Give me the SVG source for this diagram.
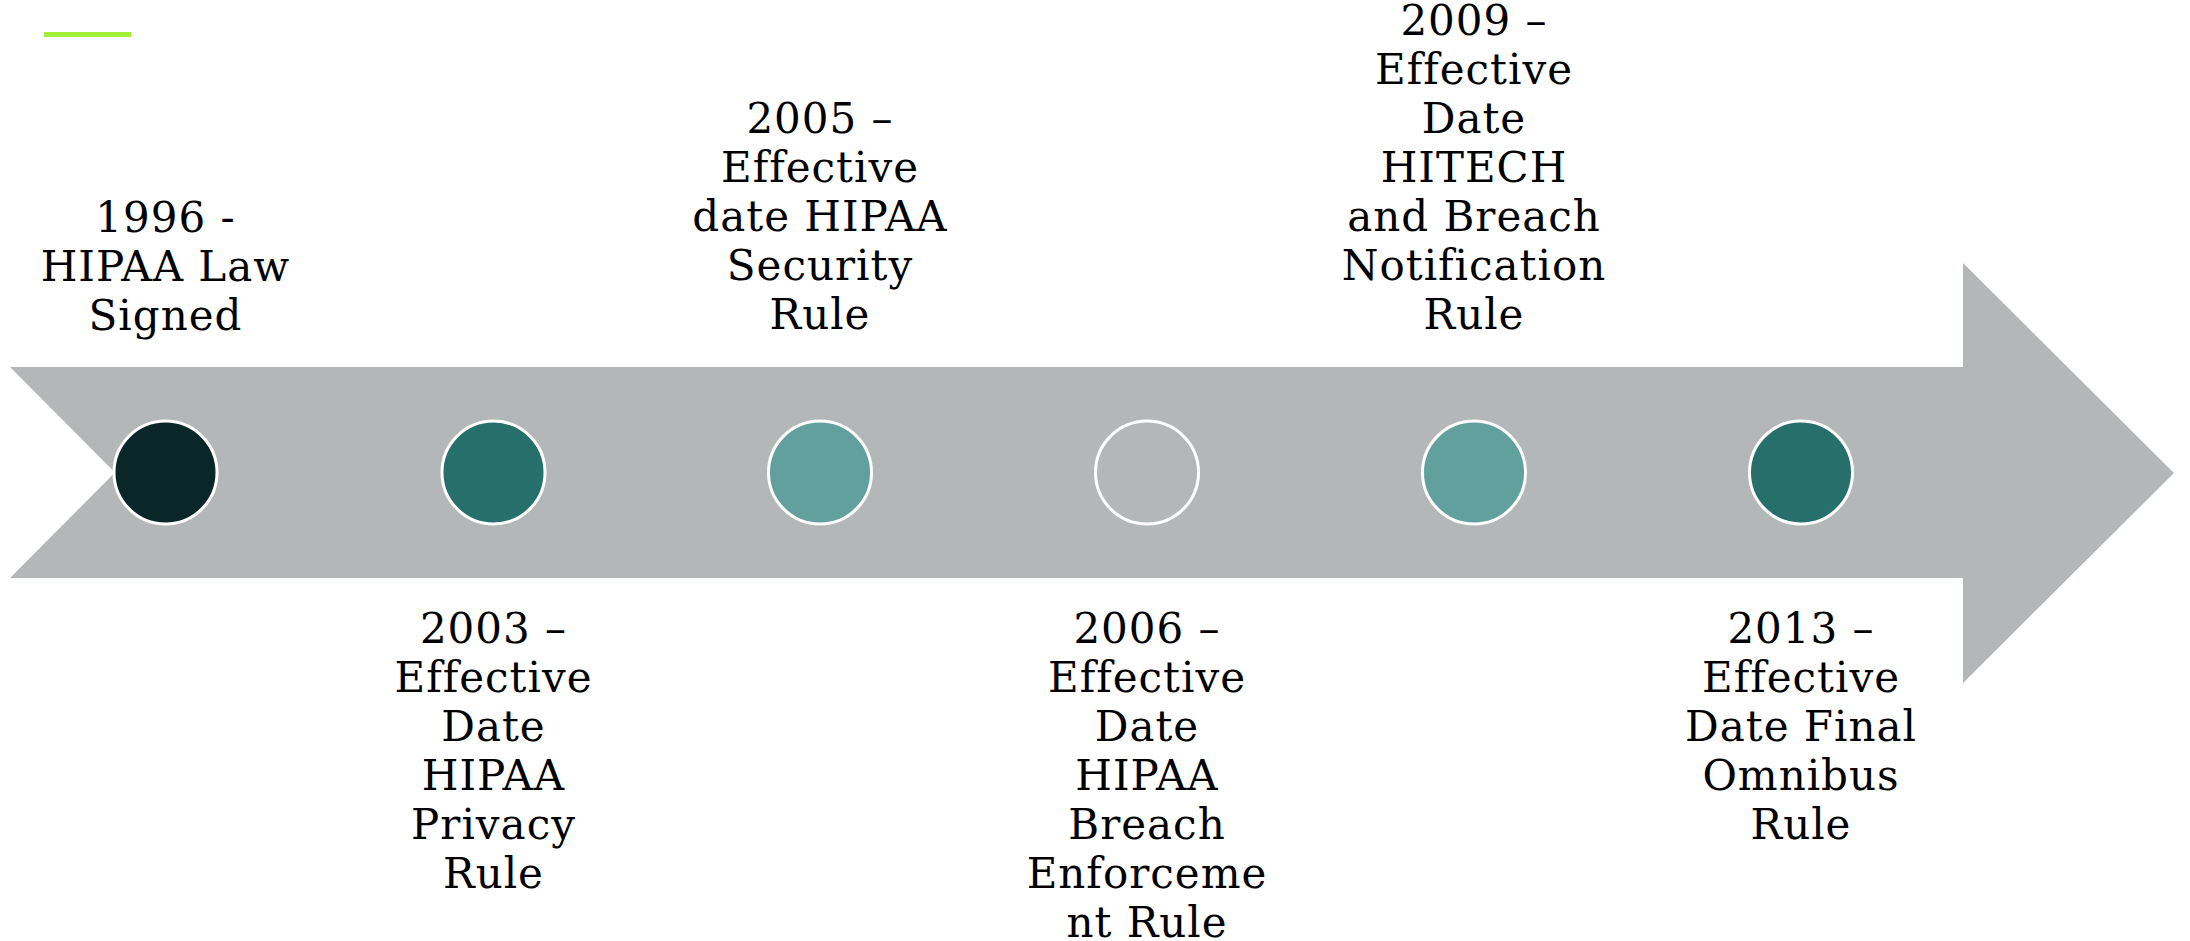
<svg xmlns="http://www.w3.org/2000/svg" width="2190" height="941" viewBox="0 0 2190 941">
<style>
.lbl{font-family:"DejaVu Serif","Liberation Serif",serif;font-size:42px;letter-spacing:1px;fill:#000;text-anchor:middle}
.dot{stroke:#ffffff;stroke-width:3}
</style>
<rect width="2190" height="941" fill="#ffffff"/>
<line x1="44" y1="34.5" x2="131" y2="34.5" stroke="#a3ef3a" stroke-width="5"/>
<g id="arrow">
<polygon points="10,367 1963,367 1963,263 2174,473 1963,683 1963,578 10,578 115,472.5" fill="#b4b7b8"/>
</g>
<g id="connectors"></g>
<g id="n1996">
<circle class="dot" cx="165.5" cy="472.5" r="51.5" fill="#0a2628"/>
<text class="lbl" x="165.5" y="232"><tspan x="165.5">1996 -</tspan><tspan x="165.5" dy="49">HIPAA Law</tspan><tspan x="165.5" dy="49">Signed</tspan></text>
</g>
<g id="n2003">
<circle class="dot" cx="493.5" cy="472.5" r="51.5" fill="#276f6b"/>
<text class="lbl" x="493.5" y="643"><tspan x="493.5">2003 –</tspan><tspan x="493.5" dy="49">Effective</tspan><tspan x="493.5" dy="49">Date</tspan><tspan x="493.5" dy="49">HIPAA</tspan><tspan x="493.5" dy="49">Privacy</tspan><tspan x="493.5" dy="49">Rule</tspan></text>
</g>
<g id="n2005">
<circle class="dot" cx="820" cy="472.5" r="51.5" fill="#62a09d"/>
<text class="lbl" x="820" y="133"><tspan x="820">2005 –</tspan><tspan x="820" dy="49">Effective</tspan><tspan x="820" dy="49">date HIPAA</tspan><tspan x="820" dy="49">Security</tspan><tspan x="820" dy="49">Rule</tspan></text>
</g>
<g id="n2006">
<circle class="dot" cx="1147" cy="472.5" r="51.5" fill="#b4b7b8"/>
<text class="lbl" x="1147" y="643"><tspan x="1147">2006 –</tspan><tspan x="1147" dy="49">Effective</tspan><tspan x="1147" dy="49">Date</tspan><tspan x="1147" dy="49">HIPAA</tspan><tspan x="1147" dy="49">Breach</tspan><tspan x="1147" dy="49">Enforceme</tspan><tspan x="1147" dy="49">nt Rule</tspan></text>
</g>
<g id="n2009">
<circle class="dot" cx="1474" cy="472.5" r="51.5" fill="#62a09d"/>
<text class="lbl" x="1474" y="35"><tspan x="1474">2009 –</tspan><tspan x="1474" dy="49">Effective</tspan><tspan x="1474" dy="49">Date</tspan><tspan x="1474" dy="49">HITECH</tspan><tspan x="1474" dy="49">and Breach</tspan><tspan x="1474" dy="49">Notification</tspan><tspan x="1474" dy="49">Rule</tspan></text>
</g>
<g id="n2013">
<circle class="dot" cx="1801" cy="472.5" r="51.5" fill="#276f6b"/>
<text class="lbl" x="1801" y="643"><tspan x="1801">2013 –</tspan><tspan x="1801" dy="49">Effective</tspan><tspan x="1801" dy="49">Date Final</tspan><tspan x="1801" dy="49">Omnibus</tspan><tspan x="1801" dy="49">Rule</tspan></text>
</g>
</svg>
